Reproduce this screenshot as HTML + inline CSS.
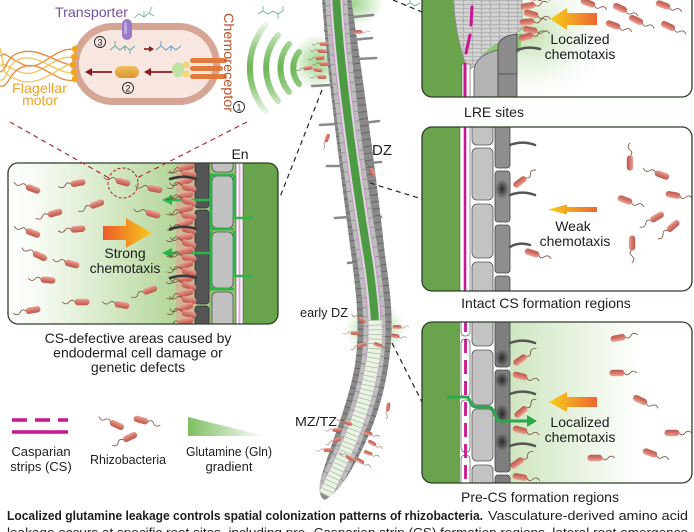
<!DOCTYPE html>
<html><head><meta charset="utf-8">
<style>html,body{margin:0;padding:0;background:#fff}svg{display:block}text{font-family:"Liberation Sans",Arial,sans-serif;fill:#1e1e1e}</style>
</head><body>
<svg xmlns="http://www.w3.org/2000/svg" width="694" height="532" viewBox="0 0 694 532">
<defs>
<linearGradient id="bb" x1="0" y1="0" x2="0" y2="1"><stop offset="0" stop-color="#eaa59b"/><stop offset="0.5" stop-color="#d57668"/><stop offset="1" stop-color="#b95a4f"/></linearGradient>
<g id="bac"><path d="M-7,0 C-9,-2.5 -11,-2.5 -13,0 S-17,2.5 -20,0" fill="none" stroke="#7a4a3a" stroke-width="0.8"/><rect x="-7.5" y="-3.2" width="15" height="6.4" rx="3.2" fill="url(#bb)"/></g>
<linearGradient id="ga" x1="0" y1="0" x2="1" y2="0"><stop offset="0" stop-color="#ee5a2a"/><stop offset="1" stop-color="#f7cb1c"/></linearGradient>
<linearGradient id="gb" x1="0" y1="0" x2="1" y2="0"><stop offset="0" stop-color="#f6d01a"/><stop offset="1" stop-color="#ee6630"/></linearGradient>
<linearGradient id="gl" gradientUnits="userSpaceOnUse" x1="8" y1="0" x2="200" y2="0"><stop offset="0" stop-color="#ffffff"/><stop offset="0.2" stop-color="#f3f9ef"/><stop offset="0.6" stop-color="#cfe5bd"/><stop offset="1" stop-color="#a6cf8a"/></linearGradient>
<linearGradient id="gp" gradientUnits="userSpaceOnUse" x1="510" y1="0" x2="640" y2="0"><stop offset="0" stop-color="#cfe6c0"/><stop offset="1" stop-color="#ffffff"/></linearGradient>
<radialGradient id="gr" cx="0.5" cy="0.5" r="0.5"><stop offset="0" stop-color="#b9dca6" stop-opacity="0.9"/><stop offset="1" stop-color="#ffffff" stop-opacity="0"/></radialGradient>
<radialGradient id="gg" cx="0.5" cy="0.5" r="0.5"><stop offset="0" stop-color="#7cc765" stop-opacity="0.75"/><stop offset="1" stop-color="#7cc765" stop-opacity="0"/></radialGradient>
<radialGradient id="gd" cx="0.5" cy="0.5" r="0.5"><stop offset="0" stop-color="#1a1a1a" stop-opacity="0.85"/><stop offset="1" stop-color="#1a1a1a" stop-opacity="0"/></radialGradient>
<linearGradient id="garc" gradientUnits="userSpaceOnUse" x1="0" y1="18" x2="0" y2="118"><stop offset="0" stop-color="#7cbf64" stop-opacity="0"/><stop offset="0.3" stop-color="#7cbf64" stop-opacity="0.8"/><stop offset="0.5" stop-color="#6cb556" stop-opacity="1"/><stop offset="0.7" stop-color="#7cbf64" stop-opacity="0.8"/><stop offset="1" stop-color="#7cbf64" stop-opacity="0"/></linearGradient>
<linearGradient id="gtri" x1="0" y1="0" x2="1" y2="0"><stop offset="0" stop-color="#7ebf62"/><stop offset="1" stop-color="#ffffff"/></linearGradient>
<linearGradient id="gpill" x1="0" y1="0" x2="0" y2="1"><stop offset="0" stop-color="#f0c060"/><stop offset="1" stop-color="#d8962e"/></linearGradient>
<pattern id="cells" width="9" height="8" patternUnits="userSpaceOnUse"><rect width="9" height="8" fill="#d3d3d3"/><path d="M0,0 L4,1 L9,0 M4,1 L5,8 M0,4.5 L5,5 M5,5 L9,4" stroke="#8e8e8e" stroke-width="0.5" fill="none"/></pattern>
<clipPath id="cL"><rect x="8" y="163" width="270" height="161" rx="10"/></clipPath>
<clipPath id="c1"><rect x="422" y="-20" width="270" height="117" rx="10"/></clipPath>
<clipPath id="c2"><rect x="422" y="127" width="270" height="164" rx="10"/></clipPath>
<clipPath id="c3"><rect x="422" y="322" width="270" height="161" rx="10"/></clipPath>
<clipPath id="cR"><path d="M322,-2 C326,60 340,170 352,260 C357,300 360,330 355,365 C348,405 332,440 321,478 Q317,497 325,500 Q338,492 350,472 C370,438 385,400 390,352 C394,318 390,290 385,255 C378,190 366,100 351,-2 Z"/></clipPath>
</defs>

<!-- ===== Bacterium cell (top-left) ===== -->
<g fill="none" stroke-width="1.3">
<path d="M76,50 C55,44 42,74 22,64 S6,52 0,56" stroke="#e8883a"/>
<path d="M75,58 C55,52 40,80 20,72 S6,62 0,66" stroke="#f3c35a"/>
<path d="M74,66 C54,62 40,48 22,52 S8,70 0,72" stroke="#e8883a"/>
<path d="M75,73 C56,74 42,56 24,58 S8,82 0,80" stroke="#f3c35a"/>
<path d="M76,80 C56,84 44,62 26,66 S10,88 0,86" stroke="#e8883a"/>
<path d="M74,62 C54,70 38,88 18,80 S6,70 0,48" stroke="#f3c35a"/>
</g>
<rect x="72" y="23" width="148" height="82" rx="41" fill="#d5a596"/>
<rect x="79" y="30" width="134" height="68" rx="34" fill="#f8e6e1"/>
<g fill="#f2a618"><circle cx="75" cy="49" r="3.2"/><circle cx="74" cy="57" r="3.2"/><circle cx="73" cy="65" r="3.2"/><circle cx="74" cy="72" r="3.2"/><circle cx="75" cy="79" r="3.2"/></g>
<rect x="122" y="19" width="10" height="21" rx="5" fill="#9b7bc7"/>
<rect x="124" y="22" width="3" height="12" rx="1.5" fill="#c0a8e0"/>
<path d="M134,18 l5,-4 l5,3 l5,-4 l5,3 M144,17 l0,-6 M149,13 l3,-6" stroke="#6aaa98" stroke-width="0.8" fill="none"/>
<text x="55" y="17" font-size="14" fill="#7a4fa0" style="fill:#7a4fa0" textLength="73" lengthAdjust="spacingAndGlyphs">Transporter</text>
<circle cx="100" cy="42" r="5.5" fill="none" stroke="#222" stroke-width="0.9"/><text x="100" y="45.5" font-size="9" text-anchor="middle">3</text>
<path d="M110,50 l5,-4 l5,4 l5,-4 l5,4 l5,-4 M115,46 l0,-5 M125,46 l0,5 M130,50 l0,4" stroke="#5aa89a" stroke-width="0.9" fill="none"/>
<path d="M144,49 H150" stroke="#8b1a1a" stroke-width="1.6"/><path d="M154,49 L149,46 L149,52 Z" fill="#8b1a1a"/>
<path d="M156,50 l5,-4 l5,4 l5,-4 l5,4 l5,-4 M161,46 l0,-5 M171,46 l0,5" stroke="#5a9cc0" stroke-width="0.9" fill="none"/>
<path d="M174,72 H150" stroke="#8b1a1a" stroke-width="1.8"/><path d="M144,72 L151,68 L151,76 Z" fill="#8b1a1a"/>
<rect x="115" y="66" width="24" height="12" rx="6" fill="url(#gpill)"/>
<path d="M112,72 H91" stroke="#8b1a1a" stroke-width="1.8"/><path d="M85,72 L92,68 L92,76 Z" fill="#8b1a1a"/>
<circle cx="128" cy="88" r="5.5" fill="none" stroke="#222" stroke-width="0.9"/><text x="128" y="91.5" font-size="9" text-anchor="middle">2</text>
<g fill="#e27a3c"><rect x="190" y="58" width="37" height="5" rx="2.5"/><rect x="190" y="66" width="33" height="5" rx="2.5"/><rect x="190" y="74" width="37" height="5" rx="2.5"/></g>
<ellipse cx="178" cy="70" rx="6" ry="7.5" fill="#bfe3a6"/>
<circle cx="186" cy="65" r="3.6" fill="#f2d677"/><circle cx="186" cy="74" r="3.6" fill="#f2d677"/>
<text transform="translate(224,13) rotate(90)" font-size="14" style="fill:#b5532a" textLength="99" lengthAdjust="spacingAndGlyphs">Chemoreceptor</text>
<circle cx="239" cy="107" r="5.5" fill="none" stroke="#222" stroke-width="0.9"/><text x="239" y="110.5" font-size="9" text-anchor="middle">1</text>
<text x="12" y="93" font-size="14" style="fill:#eea32c" textLength="55" lengthAdjust="spacingAndGlyphs">Flagellar</text>
<text x="40" y="105" font-size="14" text-anchor="middle" style="fill:#eea32c">motor</text>

<!-- green arcs -->
<g fill="none" stroke="url(#garc)" stroke-width="6" stroke-linecap="round">
<path d="M266,24 A68,68 0 0 0 266,112"/>
<path d="M278,35 A52,52 0 0 0 278,101"/>
<path d="M289,44 A38,38 0 0 0 289,92"/>
<path d="M299,52 A25,25 0 0 0 299,84"/>
</g>
<path d="M258,14 l5,-3 l5,3 l5,-3 l5,3 l5,-3 M263,11 l0,-5 M283,11 l0,-5 M278,14 l0,5" stroke="#5aa89a" stroke-width="0.8" fill="none"/>
<path d="M405,6 l5,-3 l5,3 l5,-3 M410,3 l0,-4" stroke="#5aa89a" stroke-width="0.8" fill="none"/>

<!-- ===== Left panel ===== -->
<g clip-path="url(#cL)">
<rect x="8" y="163" width="270" height="161" fill="url(#gl)"/>
<rect x="176" y="163" width="20" height="161" fill="#e3a092" opacity="0.55"/>
<rect x="209" y="163" width="69" height="161" fill="#8fbe70"/>
<rect x="243" y="163" width="35" height="161" fill="#69a44c"/>
<g fill="#555" stroke="#333" stroke-width="0.8"><rect x="195" y="155" width="14" height="53" rx="3"/><rect x="195" y="210" width="14" height="94" rx="3"/><rect x="195" y="306" width="14" height="25" rx="3"/></g>
<g fill="#c2c2c2" stroke="#555" stroke-width="0.8"><rect x="212" y="155" width="21" height="17" rx="5"/><rect x="212" y="176" width="21" height="52" rx="5"/><rect x="212" y="232" width="21" height="56" rx="5"/><rect x="212" y="292" width="21" height="40" rx="5"/></g>
<rect x="236" y="158" width="7" height="170" fill="#fff" stroke="#666" stroke-width="0.8"/>
<path d="M239.5,158 V330" stroke="#e7a6d7" stroke-width="2"/>
<g fill="none" stroke="#2cb34a" stroke-width="2.6">
<path d="M234,175 H211 V229 H234"/><path d="M234,175 V218 H253"/><path d="M234,231 V276 H253"/><path d="M211,231 V289 H234"/>
<path d="M211,200 H170"/><path d="M211,253 H170"/>
</g>
<path d="M162,200 L172,195 L172,205 Z" fill="#2cb34a"/><path d="M162,253 L172,248 L172,258 Z" fill="#2cb34a"/>
<g>
<use href="#bac" transform="translate(187,167) rotate(-15)"/><use href="#bac" transform="translate(189,174) rotate(10)"/><use href="#bac" transform="translate(186,181) rotate(-20)"/><use href="#bac" transform="translate(189,188) rotate(15)"/><use href="#bac" transform="translate(186,195) rotate(-10)"/><use href="#bac" transform="translate(189,202) rotate(20)"/><use href="#bac" transform="translate(186,209) rotate(-15)"/><use href="#bac" transform="translate(189,216) rotate(10)"/><use href="#bac" transform="translate(186,223) rotate(-20)"/><use href="#bac" transform="translate(189,230) rotate(15)"/><use href="#bac" transform="translate(186,237) rotate(-10)"/><use href="#bac" transform="translate(189,244) rotate(20)"/><use href="#bac" transform="translate(186,251) rotate(-15)"/><use href="#bac" transform="translate(189,258) rotate(10)"/><use href="#bac" transform="translate(186,265) rotate(-20)"/><use href="#bac" transform="translate(189,272) rotate(15)"/><use href="#bac" transform="translate(186,279) rotate(-10)"/><use href="#bac" transform="translate(189,286) rotate(20)"/><use href="#bac" transform="translate(186,293) rotate(-15)"/><use href="#bac" transform="translate(189,300) rotate(10)"/><use href="#bac" transform="translate(186,307) rotate(-20)"/><use href="#bac" transform="translate(189,314) rotate(15)"/><use href="#bac" transform="translate(186,321) rotate(-10)"/>
</g>
<g fill="none" stroke="#3a3a3a" stroke-width="2.6" stroke-linecap="round"><path d="M196,179 C188,176 180,176 170,179"/><path d="M196,229 C188,226 180,226 170,229"/><path d="M196,278 C188,275 180,275 170,278"/></g>
<g>
<use href="#bac" transform="translate(33,189) rotate(20)"/><use href="#bac" transform="translate(78,183) rotate(-10)"/><use href="#bac" transform="translate(123,182) rotate(15)"/><use href="#bac" transform="translate(155,189) rotate(10)"/><use href="#bac" transform="translate(55,213) rotate(-15)"/><use href="#bac" transform="translate(97,204) rotate(-20)"/><use href="#bac" transform="translate(153,214) rotate(15)"/><use href="#bac" transform="translate(33,233) rotate(20)"/><use href="#bac" transform="translate(78,229) rotate(-5)"/><use href="#bac" transform="translate(40,256) rotate(25)"/><use href="#bac" transform="translate(72,264) rotate(15)"/><use href="#bac" transform="translate(48,280) rotate(5)"/><use href="#bac" transform="translate(150,290) rotate(-20)"/><use href="#bac" transform="translate(82,302) rotate(0)"/><use href="#bac" transform="translate(122,305) rotate(10)"/><use href="#bac" transform="translate(33,310) rotate(-10)"/>
</g>
<path d="M103,226 H126 V218 L152,233 L126,248 V240 H103 Z" fill="url(#ga)"/>
</g>
<rect x="8" y="163" width="270" height="161" rx="10" fill="none" stroke="#2f3d2a" stroke-width="1.3"/>
<text x="125" y="258" font-size="14" text-anchor="middle">Strong</text>
<text x="125" y="273" font-size="14" text-anchor="middle">chemotaxis</text>
<text x="240" y="159" font-size="14" text-anchor="middle">En</text>
<circle cx="123" cy="183" r="15" fill="none" stroke="#b03030" stroke-width="1.1" stroke-dasharray="3,2"/>
<g stroke="#b03030" stroke-width="1.2" stroke-dasharray="5,4"><path d="M10,122 L109,178"/><path d="M247,122 L137,178"/></g>
<text x="138" y="343" font-size="14" text-anchor="middle">CS-defective areas caused by</text>
<text x="138" y="357.5" font-size="14" text-anchor="middle">endodermal cell damage or</text>
<text x="138" y="372" font-size="14" text-anchor="middle">genetic defects</text>

<!-- ===== Root ===== -->
<ellipse cx="318" cy="62" rx="28" ry="28" fill="url(#gg)"/>
<ellipse cx="352" cy="4" rx="32" ry="22" fill="url(#gg)"/>
<ellipse cx="375" cy="330" rx="30" ry="28" fill="url(#gg)"/>
<g stroke="#8a8a8a" stroke-width="2.6" stroke-linecap="round">
<path d="M353,17 L373,15"/><path d="M357,59 L376,58"/><path d="M363,123 L379,121"/><path d="M368,163 L381,162"/><path d="M376,218 L381,217"/>
<path d="M312,86 L331,85"/><path d="M320,125 L336,124"/><path d="M327,166 L342,166"/><path d="M335,218 L349,217"/><path d="M348,263 L356,262"/>
<path d="M352,40 L372,38"/><path d="M325,30 L332,30"/>
</g>
<g clip-path="url(#cR)">
<rect x="300" y="-5" width="110" height="510" fill="#8a8a8a"/>
<path d="M336,-5 C340,70 354,170 368,258 C374,300 377,330 372,365 C366,405 350,445 325,495" fill="none" stroke="#666" stroke-width="44" stroke-dasharray="1 6"/>
<path d="M336,-5 C340,70 354,170 368,258 C374,300 377,330 372,365 C366,405 350,445 325,495" fill="none" stroke="#bdbdbd" stroke-width="22"/>
<path d="M336,-5 C340,70 354,170 368,258 C374,300 377,330 372,365 C366,405 350,445 325,495" fill="none" stroke="#8c8c8c" stroke-width="22" stroke-dasharray="0.8 9"/>
<path d="M336,-5 C340,70 354,170 368,258 C374,300 377,330 372,365 C366,405 350,445 325,495" fill="none" stroke="#c79ac4" stroke-width="14"/>
<path d="M336,-5 C340,70 354,170 368,258 C374,300 377,330 372,365 C366,405 350,445 325,495" fill="none" stroke="#dcd6dc" stroke-width="12"/>
<path d="M336,-5 C340,70 354,170 368,258 C372,285 374,305 375,322" fill="none" stroke="#4d9a45" stroke-width="8"/>
<path d="M375,320 C376,340 375,352 372,365 C366,405 350,445 325,495" fill="none" stroke="#eaf3e3" stroke-width="13"/>
<path d="M375,320 C376,340 375,352 372,365 C366,405 350,445 325,495" fill="none" stroke="#9fb89a" stroke-width="13" stroke-dasharray="0.7 4"/>
</g>
<g>
<use href="#bac" transform="translate(324,44) scale(0.6)"/><use href="#bac" transform="translate(322,51) scale(0.6) rotate(5)"/><use href="#bac" transform="translate(320,58) scale(0.6) rotate(-5)"/><use href="#bac" transform="translate(324,64) scale(0.6)"/><use href="#bac" transform="translate(318,70) scale(0.6) rotate(8)"/><use href="#bac" transform="translate(308,68) scale(0.6) rotate(-10)"/><use href="#bac" transform="translate(322,77) scale(0.6)"/>
<use href="#bac" transform="translate(358,32) scale(0.6) rotate(180)"/><use href="#bac" transform="translate(327,138) scale(0.6) rotate(-70)"/><use href="#bac" transform="translate(372,172) scale(0.6) rotate(60)"/>
<use href="#bac" transform="translate(362,320) scale(0.6) rotate(30)"/><use href="#bac" transform="translate(355,333) scale(0.6)"/><use href="#bac" transform="translate(362,345) scale(0.6) rotate(-20)"/><use href="#bac" transform="translate(378,345) scale(0.6) rotate(200)"/><use href="#bac" transform="translate(397,327) scale(0.6) rotate(180)"/><use href="#bac" transform="translate(395,336) scale(0.6) rotate(190)"/>
<use href="#bac" transform="translate(348,423) scale(0.6) rotate(20)"/><use href="#bac" transform="translate(337,430) scale(0.6)"/><use href="#bac" transform="translate(337,440) scale(0.6) rotate(-20)"/><use href="#bac" transform="translate(328,450) scale(0.6)"/><use href="#bac" transform="translate(368,433) scale(0.6) rotate(200)"/><use href="#bac" transform="translate(372,443) scale(0.6) rotate(210)"/><use href="#bac" transform="translate(368,453) scale(0.6) rotate(200)"/><use href="#bac" transform="translate(350,458) scale(0.6) rotate(30)"/><use href="#bac" transform="translate(360,461) scale(0.6) rotate(210)"/><use href="#bac" transform="translate(388,407) scale(0.6) rotate(-80)"/>
</g>
<text x="372" y="155" font-size="15">DZ</text>
<text x="300" y="317" font-size="13" textLength="48" lengthAdjust="spacingAndGlyphs">early DZ</text>
<text x="295" y="426" font-size="13" textLength="42" lengthAdjust="spacingAndGlyphs">MZ/TZ</text>

<!-- ===== LRE panel ===== -->
<g clip-path="url(#c1)">
<rect x="422" y="-20" width="270" height="117" fill="#fff"/>
<ellipse cx="530" cy="35" rx="95" ry="75" fill="url(#gr)"/>
<path d="M422,-20 H452 C454,20 460,50 468,68 L462,97 H422 Z" fill="#69a44c"/>
<path d="M452,-20 H522 V28 C512,40 498,44 488,54 C480,62 473,68 468,70 C460,50 454,25 452,-20 Z" fill="url(#cells)" stroke="#8a8a8a" stroke-width="0.6"/>
<path d="M480,58 C490,45 505,38 522,33 L520,52 C508,55 495,58 480,58 Z" fill="#8fc978"/>
<rect x="462" y="64" width="8" height="40" fill="#fff" stroke="#666" stroke-width="0.7"/>
<g stroke="#c8178f" stroke-width="3" stroke-linecap="round"><path d="M472,7 L471,25"/><path d="M470,35 L466,53"/><path d="M465,64 L465,100"/></g>
<path d="M474,100 V72 C474,60 484,53 498,50 V100 Z" fill="#b3b3b3" stroke="#555" stroke-width="0.8"/>
<path d="M498,100 V45 C500,38 508,35 517,34 V100 Z" fill="#8c8c8c" stroke="#444" stroke-width="0.8"/>
<path d="M498,74 H517" stroke="#444" stroke-width="0.8"/>
<path d="M517,50 C525,47 533,47 540,49" fill="none" stroke="#555" stroke-width="2.5" stroke-linecap="round"/>
<g>
<use href="#bac" transform="translate(530,-3) rotate(190)"/><use href="#bac" transform="translate(528,6) rotate(170)"/><use href="#bac" transform="translate(531,14) rotate(195)"/><use href="#bac" transform="translate(527,22) rotate(175)"/><use href="#bac" transform="translate(530,30) rotate(190)"/><use href="#bac" transform="translate(526,37) rotate(165)"/>
<use href="#bac" transform="translate(588,3) rotate(200)"/><use href="#bac" transform="translate(620,8) rotate(205)"/><use href="#bac" transform="translate(663,5) rotate(200)"/><use href="#bac" transform="translate(613,25) rotate(200)"/><use href="#bac" transform="translate(636,20) rotate(205)"/><use href="#bac" transform="translate(668,26) rotate(205)"/>
</g>
<path d="M597,13 H567 V8 L550,19 L567,30 V25 H597 Z" fill="url(#gb)"/>
</g>
<rect x="422" y="-20" width="270" height="117" rx="10" fill="none" stroke="#2f3d2a" stroke-width="1.3"/>
<text x="580" y="44" font-size="14" text-anchor="middle">Localized</text>
<text x="580" y="59" font-size="14" text-anchor="middle">chemotaxis</text>
<text x="494" y="117" font-size="14" text-anchor="middle">LRE sites</text>

<!-- ===== Intact CS panel ===== -->
<g clip-path="url(#c2)">
<rect x="422" y="127" width="270" height="164" fill="#fff"/>
<rect x="422" y="127" width="38" height="164" fill="#69a44c"/>
<rect x="460" y="124" width="10" height="170" fill="#fff" stroke="#666" stroke-width="0.7"/>
<path d="M465,124 V295" stroke="#c8178f" stroke-width="2.6"/>
<g fill="#c3c3c3" stroke="#555" stroke-width="0.8"><rect x="472" y="120" width="21" height="25" rx="5"/><rect x="472" y="148" width="21" height="52" rx="5"/><rect x="472" y="204" width="21" height="54" rx="5"/><rect x="472" y="262" width="21" height="40" rx="5"/></g>
<g fill="#8e8e8e" stroke="#444" stroke-width="0.8"><rect x="495" y="120" width="15" height="48" rx="3"/><rect x="495" y="171" width="15" height="51" rx="3"/><rect x="495" y="225" width="15" height="48" rx="3"/><rect x="495" y="276" width="15" height="25" rx="3"/></g>
<ellipse cx="502" cy="189" rx="7" ry="10" fill="url(#gd)"/>
<g fill="none" stroke="#555" stroke-width="2.5" stroke-linecap="round"><path d="M510,145 C518,142 527,142 535,145"/><path d="M510,195 C518,192 527,192 535,195"/><path d="M510,247 C516,243 524,243 530,245"/></g>
<g>
<use href="#bac" transform="translate(520,182) rotate(143)"/><use href="#bac" transform="translate(532,253) rotate(197)"/>
<use href="#bac" transform="translate(630,163) rotate(90)"/><use href="#bac" transform="translate(662,175) rotate(20)"/><use href="#bac" transform="translate(673,195) rotate(190)"/><use href="#bac" transform="translate(625,200) rotate(200)"/><use href="#bac" transform="translate(657,217) rotate(-30)"/><use href="#bac" transform="translate(673,226) rotate(-40)"/><use href="#bac" transform="translate(632,243) rotate(-90)"/>
</g>
<path d="M597,207 H567 V204.5 L548,209.5 L567,214.5 V212 H597 Z" fill="url(#gb)"/>
</g>
<rect x="422" y="127" width="270" height="164" rx="10" fill="none" stroke="#2f3d2a" stroke-width="1.3"/>
<text x="573" y="231" font-size="14" text-anchor="middle">Weak</text>
<text x="575" y="246" font-size="14" text-anchor="middle">chemotaxis</text>
<text x="546" y="308" font-size="14" text-anchor="middle">Intact CS formation regions</text>

<!-- ===== Pre-CS panel ===== -->
<g clip-path="url(#c3)">
<rect x="422" y="322" width="270" height="161" fill="#fff"/>
<rect x="510" y="322" width="182" height="161" fill="url(#gp)"/>
<rect x="422" y="322" width="38" height="161" fill="#69a44c"/>
<g fill="#fff" stroke="#666" stroke-width="0.8"><rect x="461" y="315" width="9" height="21" rx="4"/><rect x="461" y="339" width="9" height="58" rx="4"/><rect x="461" y="400" width="9" height="52" rx="4"/><rect x="461" y="455" width="9" height="35" rx="4"/></g>
<path d="M465.5,318 V490" stroke="#c8178f" stroke-width="2.8" stroke-dasharray="14,7"/>
<g fill="#c3c3c3" stroke="#555" stroke-width="0.8"><rect x="472" y="315" width="21" height="31" rx="5"/><rect x="472" y="350" width="21" height="55" rx="5"/><rect x="472" y="409" width="21" height="52" rx="5"/><rect x="472" y="465" width="21" height="30" rx="5"/></g>
<g fill="#7e7e7e" stroke="#444" stroke-width="0.8"><rect x="495" y="315" width="15" height="52" rx="3"/><rect x="495" y="370" width="15" height="102" rx="3"/><rect x="495" y="475" width="15" height="20" rx="3"/></g>
<ellipse cx="502" cy="358" rx="7" ry="9" fill="url(#gd)"/><ellipse cx="502" cy="380" rx="7" ry="8" fill="url(#gd)"/><ellipse cx="502" cy="414" rx="7" ry="10" fill="url(#gd)"/><ellipse cx="502" cy="442" rx="7" ry="9" fill="url(#gd)"/>
<path d="M447,397 H466 C471,397 469,407 476,407 H489 C495,407 494,421 501,421 H528" fill="none" stroke="#2aa84a" stroke-width="3"/>
<path d="M537,421 L527,415 L527,427 Z" fill="#2aa84a"/>
<g fill="none" stroke="#555" stroke-width="2.5" stroke-linecap="round"><path d="M510,343 C518,340 527,340 535,343"/><path d="M510,394 C518,391 527,391 535,394"/><path d="M510,446 C518,443 527,443 535,446"/></g>
<g>
<use href="#bac" transform="translate(520,360) rotate(145)"/><use href="#bac" transform="translate(520,376) rotate(195)"/><use href="#bac" transform="translate(521,412) rotate(140)"/><use href="#bac" transform="translate(520,430) rotate(195)"/><use href="#bac" transform="translate(517,463) rotate(145)"/><use href="#bac" transform="translate(520,477) rotate(190)"/>
<use href="#bac" transform="translate(618,338) rotate(170)"/><use href="#bac" transform="translate(617,373) rotate(180)"/><use href="#bac" transform="translate(640,400) rotate(205)"/><use href="#bac" transform="translate(672,433) rotate(180)"/><use href="#bac" transform="translate(650,453) rotate(200)"/><use href="#bac" transform="translate(595,458) rotate(180)"/>
</g>
<path d="M597,397 H567 V392 L549,402 L567,412 V407 H597 Z" fill="url(#gb)"/>
</g>
<rect x="422" y="322" width="270" height="161" rx="10" fill="none" stroke="#2f3d2a" stroke-width="1.3"/>
<text x="580" y="427" font-size="14" text-anchor="middle">Localized</text>
<text x="580" y="442" font-size="14" text-anchor="middle">chemotaxis</text>
<text x="540" y="502" font-size="14" text-anchor="middle">Pre-CS formation regions</text>

<!-- connectors -->
<g stroke="#222" stroke-width="1.2" stroke-dasharray="5,4" fill="none">
<path d="M393,0 L422,12"/><path d="M322,90 L280,197"/><path d="M370,183 L422,199"/><path d="M392,343 L422,402"/>
</g>

<!-- legend -->
<path d="M12,420 H68" stroke="#c8178f" stroke-width="3.5" stroke-dasharray="15,8"/>
<path d="M12,432 H68" stroke="#c8178f" stroke-width="3.5"/>
<text x="41" y="456" font-size="13" text-anchor="middle">Casparian</text>
<text x="41" y="471" font-size="13" text-anchor="middle">strips (CS)</text>
<use href="#bac" transform="translate(117,425) rotate(25)"/>
<use href="#bac" transform="translate(141,420) rotate(15) scale(-1,1)"/>
<use href="#bac" transform="translate(130,437) rotate(-25)"/>
<text x="128" y="464" font-size="13" text-anchor="middle" textLength="76" lengthAdjust="spacingAndGlyphs">Rhizobacteria</text>
<path d="M188,417 L265,436 L188,436 Z" fill="url(#gtri)"/>
<text x="229" y="456" font-size="13" text-anchor="middle" textLength="86" lengthAdjust="spacingAndGlyphs">Glutamine (Gln)</text>
<text x="229" y="471" font-size="13" text-anchor="middle">gradient</text>

<!-- caption -->
<text x="7" y="520" font-size="13" font-weight="bold" textLength="476" lengthAdjust="spacingAndGlyphs">Localized glutamine leakage controls spatial colonization patterns of rhizobacteria.</text>
<text x="488" y="520" font-size="13" textLength="200" lengthAdjust="spacingAndGlyphs">Vasculature-derived amino acid</text>
<text x="7" y="537" font-size="13" textLength="681" lengthAdjust="spacingAndGlyphs">leakage occurs at specific root sites, including pre- Casparian strip (CS) formation regions, lateral root emergence</text>
</svg>
</body></html>
